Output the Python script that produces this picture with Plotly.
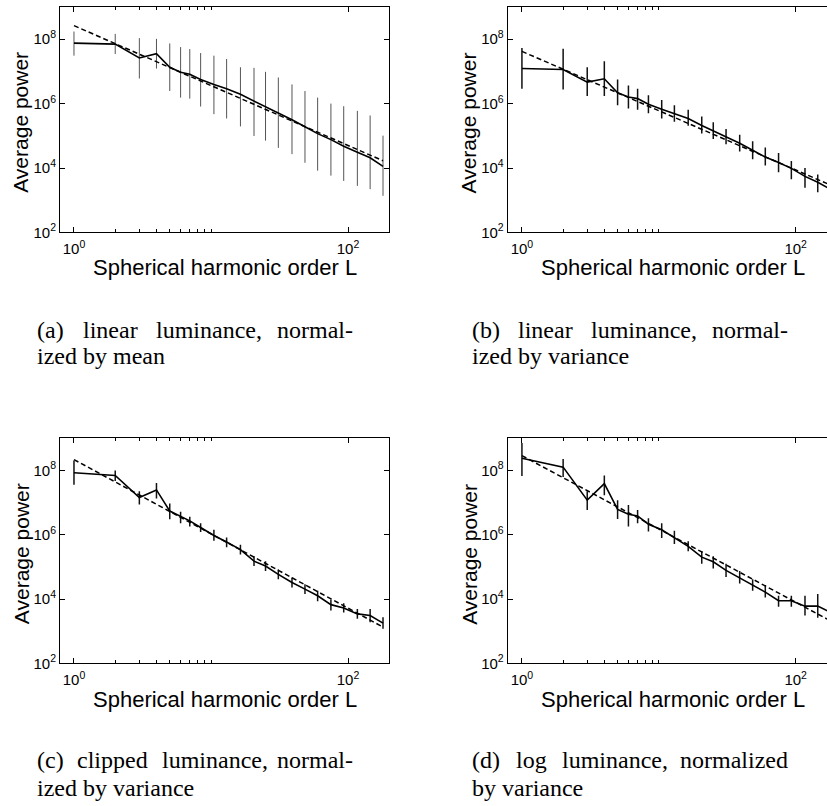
import plotly.graph_objects as go

# ---------------- data (power values as log10) ----------------
L_order = [1, 2, 3, 4, 5, 6, 7, 8.4, 10.5, 13, 16.4, 20.6, 25, 31, 39, 48.5, 60, 75, 93, 117, 145, 180]

a_log_mid = [7.877, 7.846, 7.415, 7.549, 7.128, 6.974, 6.913, 6.749, 6.595, 6.462, 6.287,
             6.082, 5.908, 5.703, 5.497, 5.282, 5.067, 4.882, 4.677, 4.492, 4.318, 4.051]
a_log_hi = [8.236, 8.164, 8.031, 8.010, 7.867, 7.754, 7.692, 7.569, 7.487, 7.385, 7.128,
            7.108, 6.985, 6.810, 6.595, 6.390, 6.185, 6.000, 5.918, 5.774, 5.631, 5.005]
a_log_lo = [7.487, 7.538, 6.779, 7.087, 6.390, 6.185, 6.154, 5.908, 5.672, 5.538, 5.292,
            4.995, 4.851, 4.626, 4.431, 4.164, 3.918, 3.764, 3.600, 3.446, 3.344, 3.138]

b_log_mid = [7.087, 7.056, 6.667, 6.769, 6.338, 6.205, 6.154, 5.979, 5.826, 5.692, 5.538,
             5.32, 5.15, 4.98, 4.77, 4.55, 4.34, 4.17, 3.99, 3.74, 3.56, 3.34]
b_log_hi = [7.723, 7.703, 7.128, 7.313, 6.749, 6.564, 6.462, 6.256, 6.113, 5.949, 5.805,
            5.60, 5.42, 5.21, 5.03, 4.83, 4.64, 4.47, 4.22, 4.00, 3.80, 3.62]
b_log_lo = [6.462, 6.441, 6.236, 6.236, 5.949, 5.846, 5.805, 5.703, 5.538, 5.436, 5.313,
            5.07, 4.90, 4.74, 4.51, 4.27, 4.08, 3.87, 3.65, 3.39, 3.25, 3.06]

c_log_mid = [7.928, 7.846, 7.159, 7.395, 6.738, 6.564, 6.431, 6.226, 5.979, 5.774, 5.538,
             5.179, 5.026, 4.769, 4.513, 4.308, 4.103, 3.826, 3.723, 3.538, 3.487, 3.251]
c_log_hi = [8.308, 8.000, 7.354, 7.610, 6.974, 6.718, 6.564, 6.359, 6.154, 5.918, 5.692,
            5.333, 5.179, 4.923, 4.667, 4.462, 4.256, 3.985, 3.867, 3.692, 3.692, 3.436]
c_log_lo = [7.559, 7.672, 6.944, 7.128, 6.482, 6.359, 6.256, 6.082, 5.815, 5.610, 5.385,
            5.026, 4.872, 4.615, 4.359, 4.154, 3.928, 3.641, 3.579, 3.385, 3.282, 3.077]

d_log_mid = [8.379, 8.103, 7.077, 7.590, 6.790, 6.636, 6.585, 6.328, 6.154, 5.918, 5.641,
             5.303, 5.159, 4.892, 4.660, 4.420, 4.215, 3.949, 3.949, 3.780, 3.780, 3.59]
d_log_hi = [8.851, 8.359, 7.354, 7.846, 7.077, 6.923, 6.769, 6.513, 6.359, 6.123, 5.795,
            5.487, 5.333, 5.097, 4.872, 4.615, 4.441, 4.103, 4.103, 4.103, 4.154, 3.85]
d_log_lo = [7.826, 7.795, 6.769, 7.231, 6.492, 6.256, 6.359, 6.103, 5.897, 5.713, 5.487,
            5.097, 4.954, 4.687, 4.482, 4.256, 4.051, 3.764, 3.764, 3.487, 3.415, 3.30]

fit_L = [1, 180]
fit_a_log = [8.42, 4.226]
fit_b_log = [7.62, 3.47]
fit_c_log = [8.338, 3.128]
fit_d_log = [8.46, 3.32]

x_tickvals = [1, 100]
x_ticktext = ["10<sup>0</sup>", "10<sup>2</sup>"]
x_minor = [2, 3, 4, 5, 6, 7, 8, 9, 10]
y_tickvals = [1e2, 1e4, 1e6, 1e8]
y_ticktext = ["10<sup>2</sup>", "10<sup>4</sup>", "10<sup>6</sup>", "10<sup>8</sup>"]

x_title = "Spherical harmonic order L"
y_title = "Average power"
captions = [
    (["(a)", "linear", "luminance,", "normal-"], "ized by mean"),
    (["(b)", "linear", "luminance,", "normal-"], "ized by variance"),
    (["(c)", "clipped", "luminance,", "normal-"], "ized by variance"),
    (["(d)", "log", "luminance,", "normalized"], "by variance"),
]

# ---------------- layout geometry (pixels) ----------------
W, H = 827, 806
SANS = "Liberation Sans"
SERIF = "Liberation Serif"

def px(x):
    return x / W

def py(y):
    return 1 - y / H

col_left = [60, 507.7]
col_right = [389, 827]
col_xrange = [[-0.102, 2.299], [-0.104, 2.229]]
row_top = [7.0, 442.7]
row_bot = [234.8, 670.0]

# word x positions of the justified first caption lines (last word right-aligned)
cap_word_x = [
    [35, 80.5, 154, 355],
    [470, 515.5, 589, 790],
    [35, 75.2, 159.5, 355],
    [470, 513.8, 560.3, 790],
]
cap_line_y = [[333.0, 360.0], [768.0, 795.5]]

panels = [
    (a_log_mid, a_log_hi, a_log_lo, fit_a_log, "#555555", 1.0),
    (b_log_mid, b_log_hi, b_log_lo, fit_b_log, "#111111", 1.5),
    (c_log_mid, c_log_hi, c_log_lo, fit_c_log, "#111111", 1.5),
    (d_log_mid, d_log_hi, d_log_lo, fit_d_log, "#111111", 1.5),
]

fig = go.Figure()
annotations = []
layout_axes = {}

for i, (mid, hi, lo, fit, ecol, ewid) in enumerate(panels):
    r, c = divmod(i, 2)
    n = "" if i == 0 else str(i + 1)
    xa, ya = "x" + n, "y" + n
    y_mid = [10 ** v for v in mid]
    err_up = [10 ** h - 10 ** v for h, v in zip(hi, mid)]
    err_dn = [10 ** v - 10 ** l for l, v in zip(lo, mid)]
    fig.add_trace(go.Scatter(
        x=L_order, y=y_mid, mode="lines", xaxis=xa, yaxis=ya,
        line=dict(color="black", width=1.6),
        error_y=dict(type="data", symmetric=False, array=err_up, arrayminus=err_dn,
                     width=0, thickness=ewid, color=ecol),
        hoverinfo="skip", showlegend=False))
    fig.add_trace(go.Scatter(
        x=fit_L, y=[10 ** v for v in fit], mode="lines", xaxis=xa, yaxis=ya,
        line=dict(color="black", width=1.5, dash="5px,3px"),
        hoverinfo="skip", showlegend=False))

    layout_axes["xaxis" + n] = dict(
        type="log", domain=[px(col_left[c]), px(col_right[c]) if c == 0 else 1.0],
        range=col_xrange[c], anchor=ya,
        showline=True, linecolor="black", linewidth=1, mirror="ticks",
        ticks="inside", ticklen=5, tickwidth=1, tickcolor="black",
        tickvals=x_tickvals, ticktext=x_ticktext, ticklabelstandoff=3,
        minor=dict(tickvals=x_minor, ticks="inside", ticklen=3, tickwidth=1,
                   tickcolor="black", showgrid=False),
        showgrid=False, zeroline=False,
        tickfont=dict(family=SANS, size=15, color="black"),
    )
    layout_axes["yaxis" + n] = dict(
        type="log", domain=[py(row_bot[r]), py(row_top[r])], range=[2, 9], anchor=xa,
        showline=True, linecolor="black", linewidth=1,
        mirror="ticks" if c == 0 else False,
        ticks="inside", ticklen=5, tickwidth=1, tickcolor="black",
        tickvals=y_tickvals, ticktext=y_ticktext,
        showgrid=False, zeroline=False,
        tickfont=dict(family=SANS, size=15, color="black"),
    )

    # axis titles
    annotations.append(dict(
        text=x_title, xref="paper", yref="paper",
        x=px(col_left[c] + 165), y=py(row_top[r] + 263.5), xanchor="center", yanchor="middle",
        showarrow=False, font=dict(family=SANS, size=22, color="black")))
    annotations.append(dict(
        text=y_title, xref="paper", yref="paper", textangle=-90,
        x=px(col_left[c] - 39), y=py(row_top[r] + 117), xanchor="center", yanchor="middle",
        showarrow=False, font=dict(family=SANS, size=21, color="black")))

    # captions
    words, line2 = captions[i]
    ly1, ly2 = cap_line_y[r]
    for k, wtext in enumerate(words):
        last = k == len(words) - 1
        annotations.append(dict(
            text=wtext, xref="paper", yref="paper",
            x=px(cap_word_x[i][k]), y=py(ly1),
            xanchor="right" if last else "left", yanchor="middle",
            showarrow=False, font=dict(family=SERIF, size=24, color="black")))
    annotations.append(dict(
        text=line2, xref="paper", yref="paper",
        x=px(cap_word_x[i][0]), y=py(ly2), xanchor="left", yanchor="middle",
        showarrow=False, font=dict(family=SERIF, size=24, color="black")))

fig.update_layout(
    width=W, height=H, margin=dict(l=0, r=0, t=0, b=0, pad=0),
    paper_bgcolor="white", plot_bgcolor="white",
    showlegend=False, annotations=annotations, **layout_axes)

fig.write_html("out.html", include_plotlyjs=True, config={"displayModeBar": False})
